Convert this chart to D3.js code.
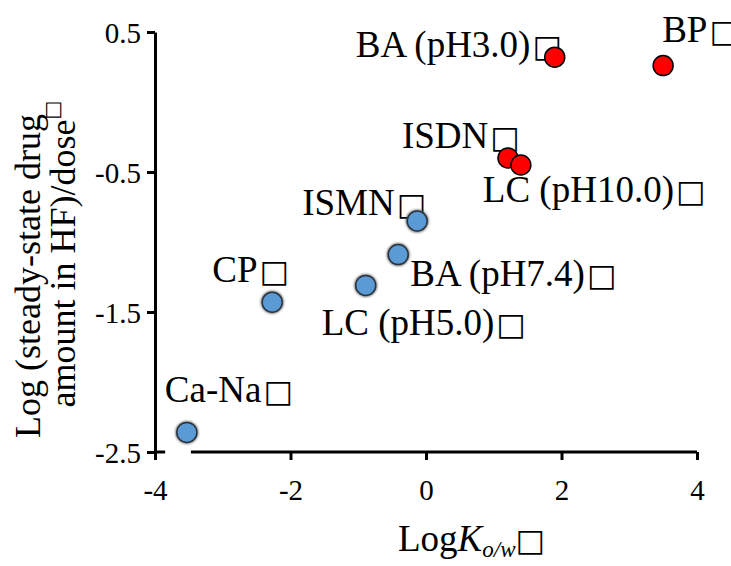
<!DOCTYPE html>
<html><head><meta charset="utf-8">
<script src="https://cdn.jsdelivr.net/npm/d3@7"></script>
<style>
body{margin:0;background:#fff}
text{font-family:"Liberation Serif","Times New Roman",serif;fill:#000}
.box{font-family:"DejaVu Sans",sans-serif}
</style>
</head><body>
<svg id="c" width="731" height="566"></svg>
<script>
// ---- data ----
const names = ["BA (pH3.0)", "BP", "ISDN", "LC (pH10.0)", "ISMN", "BA (pH7.4)", "LC (pH5.0)", "CP", "Ca-Na"];
const logKow = [1.90, 3.50, 1.21, 1.40, -0.13, -0.41, -0.89, -2.27, -3.53];
const logAmount = [0.32, 0.26, -0.40, -0.45, -0.85, -1.09, -1.31, -1.43, -2.36];
const group = ["red", "red", "red", "red", "blue", "blue", "blue", "blue", "blue"];
const xTicks = [-4, -2, 0, 2, 4];
const yTicks = [0.5, -0.5, -1.5, -2.5];
const yTickLabels = ["0.5", "-0.5", "-1.5", "-2.5"];
const xTickLabels = ["-4", "-2", "0", "2", "4"];
const xAxisSegments = [[-4, -3.85], [-3.47, 4]];

// ---- layout ----
const labelOffsets = [[-199, 0], [-1, -24], [-106, -10], [-38, 37], [-115, -6], [12, 31], [-44, 50], [-60, -20], [-22, -30]];
const colors = {red: "#ff0000", blue: "#5b9bd5"};
const strokes = {red: "#000", blue: "#2a3440"};
const BOX = "\u25A1";

const svg = d3.select("#c");
const x = d3.scaleLinear().domain([-4, 4]).range([155, 697]);
const y = d3.scaleLinear().domain([-2.5, 0.5]).range([452, 32]);

const defs = svg.append("defs");
const f = defs.append("filter").attr("id", "glow").attr("x", "-50%").attr("y", "-50%").attr("width", "200%").attr("height", "200%");
f.append("feGaussianBlur").attr("stdDeviation", 1.2);

// y axis
const yAxis = svg.append("g").attr("transform", `translate(${x(-4)},0)`)
  .call(d3.axisLeft(y).tickValues(yTicks).tickFormat((d, i) => yTickLabels[i]).tickSize(8).tickSizeOuter(0));
yAxis.attr("font-family", null);
yAxis.select(".domain").attr("stroke-width", 3);
yAxis.selectAll(".tick line").attr("stroke-width", 3);
yAxis.selectAll(".tick text").attr("font-size", 29).attr("x", -14).attr("dy", "0.35em")
  .style("font-family", "'Liberation Serif',serif");

// x axis
const xAxis = svg.append("g").attr("transform", `translate(0,${y(-2.5)})`)
  .call(d3.axisBottom(x).tickValues(xTicks).tickFormat((d, i) => xTickLabels[i]).tickSize(8).tickSizeOuter(0));
xAxis.attr("font-family", null);
xAxis.select(".domain").remove();
xAxis.selectAll(".tick line").attr("stroke-width", 3);
xAxis.selectAll(".tick text").attr("font-size", 29).attr("y", 27).attr("dy", "0.71em")
  .style("font-family", "'Liberation Serif',serif");
xAxis.selectAll(".seg").data(xAxisSegments).join("line")
  .attr("x1", d => x(d[0])).attr("x2", d => x(d[1])).attr("y1", 0).attr("y2", 0)
  .attr("stroke", "#000").attr("stroke-width", 3);

// labels
const data = names.map((n, i) => ({n, x: logKow[i], y: logAmount[i], g: group[i], o: labelOffsets[i]}));
const lab = svg.append("g").selectAll("text").data(data).join("text")
  .attr("x", d => x(d.x) + d.o[0]).attr("y", d => y(d.y) + d.o[1])
  .attr("font-size", 37);
lab.append("tspan").text(d => d.n);
lab.append("tspan").attr("class", "box").attr("font-size", 31).attr("dx", 2).text(BOX);

// points
const pts = svg.append("g");
pts.selectAll("circle.sh").data(data.filter(d => d.g === "blue")).join("circle")
  .attr("class", "sh").attr("cx", d => x(d.x)).attr("cy", d => y(d.y)).attr("r", 11.5)
  .attr("fill", "#555").attr("filter", "url(#glow)").attr("opacity", 0.8);
pts.selectAll("circle.pt").data(data).join("circle")
  .attr("class", "pt").attr("cx", d => x(d.x)).attr("cy", d => y(d.y)).attr("r", 10)
  .attr("fill", d => colors[d.g]).attr("stroke", d => strokes[d.g]).attr("stroke-width", 1.5);

// y title
const yt = svg.append("text").attr("transform", "rotate(-90)")
  .attr("text-anchor", "middle").attr("font-size", 36);
yt.append("tspan").attr("x", -276).attr("y", 40).text("Log (steady-state drug");
const yt2 = svg.append("text").attr("transform", "rotate(-90)")
  .attr("text-anchor", "middle").attr("font-size", 36).attr("x", -254).attr("y", 75);
yt2.append("tspan").text("amount in HF)/dose");
yt2.append("tspan").attr("class", "box").attr("font-size", 20).attr("dy", -16).text(BOX);

// x title
const xt = svg.append("text").attr("x", (x(-4) + x(4)) / 2 - 28).attr("y", 551).attr("font-size", 37);
xt.append("tspan").text("Log");
xt.append("tspan").attr("font-style", "italic").text("K");
xt.append("tspan").attr("font-style", "italic").attr("font-size", 23).attr("dy", 6).text("o/w");
xt.append("tspan").attr("class", "box").attr("font-style", "italic").attr("font-size", 31).attr("dy", -6).text(BOX);
</script>
</body></html>
